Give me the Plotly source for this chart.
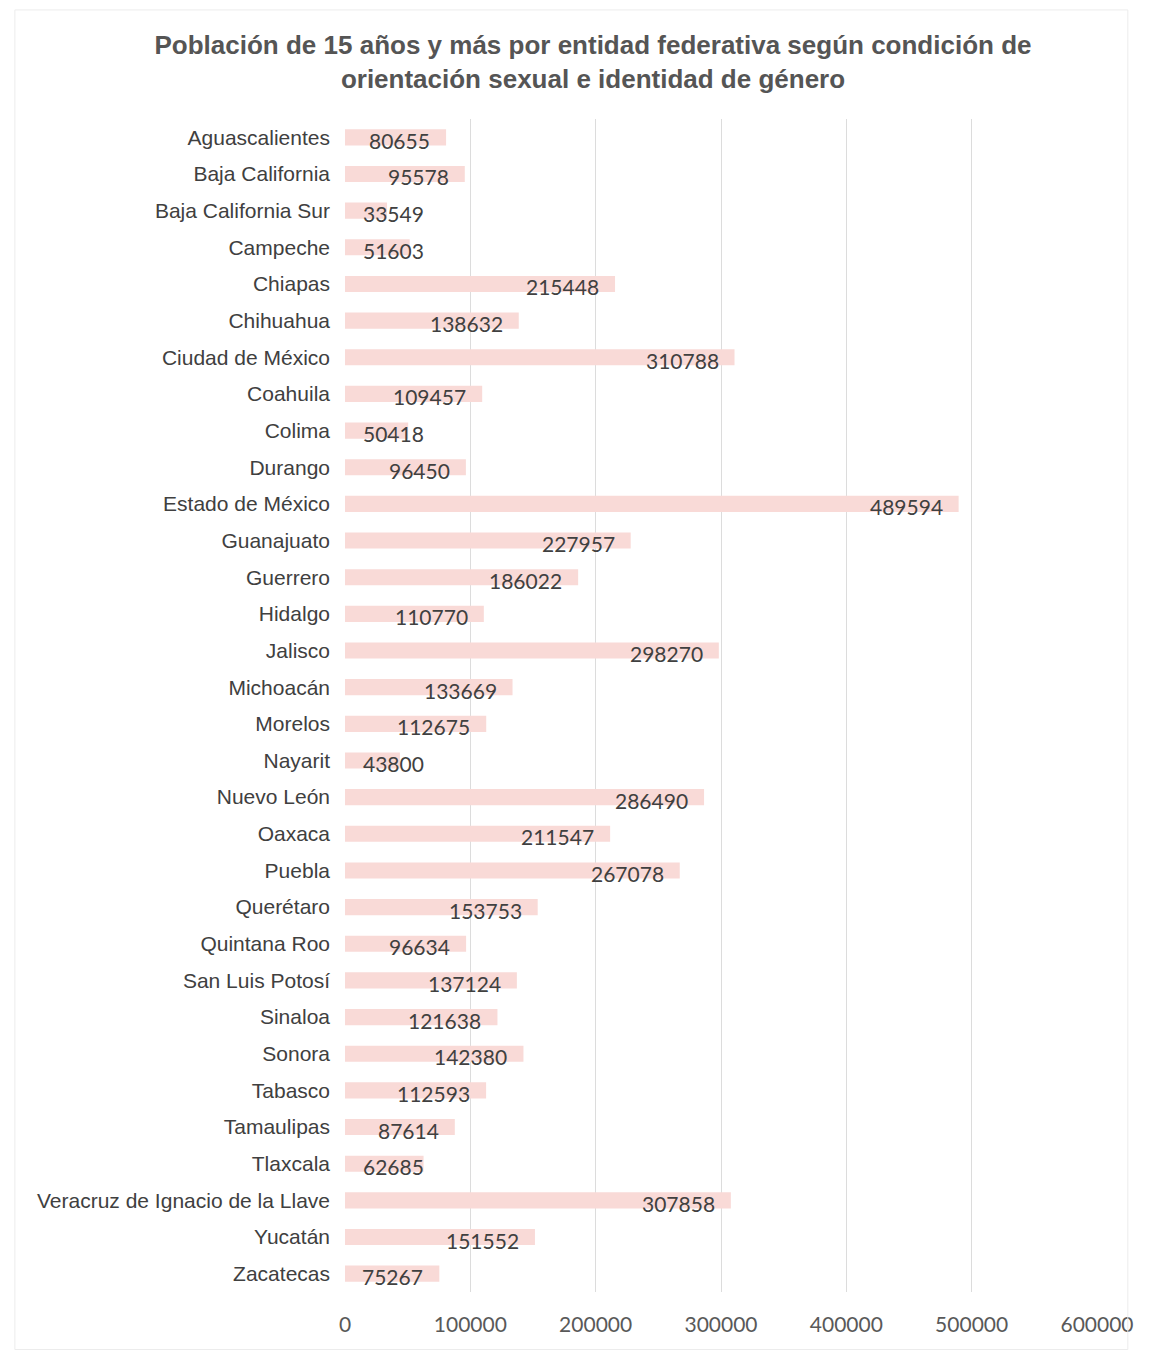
import plotly.graph_objects as go

estados = ["Aguascalientes", "Baja California", "Baja California Sur", "Campeche", "Chiapas",
           "Chihuahua", "Ciudad de México", "Coahuila", "Colima", "Durango", "Estado de México",
           "Guanajuato", "Guerrero", "Hidalgo", "Jalisco", "Michoacán", "Morelos", "Nayarit",
           "Nuevo León", "Oaxaca", "Puebla", "Querétaro", "Quintana Roo", "San Luis Potosí",
           "Sinaloa", "Sonora", "Tabasco", "Tamaulipas", "Tlaxcala",
           "Veracruz de Ignacio de la Llave", "Yucatán", "Zacatecas"]
poblacion = [80655, 95578, 33549, 51603, 215448, 138632, 310788, 109457, 50418, 96450, 489594,
             227957, 186022, 110770, 298270, 133669, 112675, 43800, 286490, 211547, 267078,
             153753, 96634, 137124, 121638, 142380, 112593, 87614, 62685, 307858, 151552, 75267]
x_ticks = [0, 100000, 200000, 300000, 400000, 500000, 600000]

LABEL_FONT = dict(family="Lato, Carlito, sans-serif", size=21, color="#404040")

fig = go.Figure(go.Bar(
    x=poblacion, y=estados, orientation="h",
    marker=dict(color="#f9dad7", line=dict(width=0)),
    hoverinfo="x+y",
))

# Data labels, "inside end" like the original; short bars get their label from the base
annotations = []
for est, val in zip(estados, poblacion):
    short = val < 70000
    annotations.append(dict(
        x=0 if short else val, y=est, xref="x", yref="y",
        text=str(val), showarrow=False,
        xanchor="left" if short else "right",
        xshift=16 if short else -14, yshift=-3,
        font=LABEL_FONT,
    ))

fig.update_layout(
    width=1150, height=1353,
    paper_bgcolor="white", plot_bgcolor="white",
    margin=dict(l=337, r=61, t=111, b=69),
    bargap=0.56,
    showlegend=False,
    title=dict(
        text="Población de 15 años y más por entidad federativa según condición de<br>orientación sexual e identidad de género",
        x=(593 - 8) / 1150, xanchor="center", y=1 - (54 - 8) / 1353, yanchor="middle",
        font=dict(family="Liberation Sans, Arial, sans-serif", size=26, color="#555555", weight="bold"),
    ),
    xaxis=dict(
        range=[0, 600000], tickvals=x_ticks, ticktext=[str(v) for v in x_ticks],
        showgrid=True, gridcolor="#dcdcdc", gridwidth=1, zeroline=False,
        showline=False, ticks="", ticklabelstandoff=18,
        tickfont=dict(family="Lato, Carlito, sans-serif", size=21, color="#595959"),
    ),
    yaxis=dict(
        autorange="reversed", showgrid=False, showline=False, ticks="",
        ticklabelstandoff=14,
        tickfont=dict(family="Liberation Sans, Arial, sans-serif", size=21, color="#404040"),
    ),
    annotations=annotations,
    shapes=[dict(type="rect", xref="paper", yref="paper", x0=-0.439, x1=1.041, y0=-0.049, y1=1.093,
                 line=dict(color="#ececec", width=1))],
)

fig.write_html("out.html")
